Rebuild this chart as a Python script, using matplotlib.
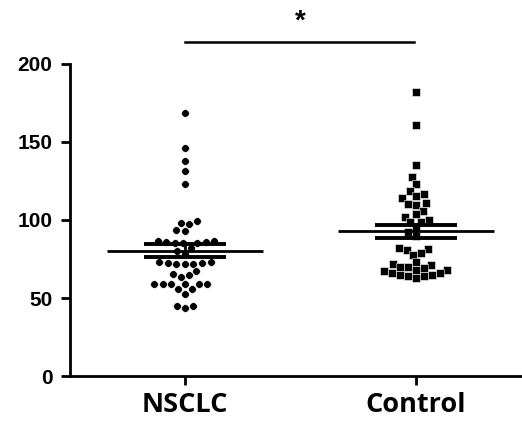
import numpy as np, pandas as pd, matplotlib; matplotlib.use("Agg")
import matplotlib.pyplot as plt
import seaborn as sns

groups = ["NSCLC", "Control"]
# values (points hidden under the mean/SEM bars are guessed)
nsclc = [168.4, 146.0, 137.8, 131.4, 123.3,
         97.4, 99.4, 98.3, 92.9, 93.6,
         86.0, 85.5, 86.5, 85.0, 86.0, 85.5, 86.5,
         80.0, 78.0, 82.0,
         72.0, 72.5, 73.0, 72.0, 72.5, 73.0, 72.0,
         67.1, 65.6, 63.5, 64.5,
         59.0, 59.2, 59.0, 59.2, 59.0, 59.2,
         55.5, 55.5, 52.7,
         45.0, 43.5, 45.0]
control = [182.3, 160.9, 135.3, 127.3, 123.1, 118.8, 115.4, 116.7, 113.9,
           110.7, 109.6, 110.3, 106.0, 103.8, 102.1,
           99.0, 98.5, 100.0,
           95.0, 92.0, 90.0,
           82.0, 81.0, 81.2,
           77.6, 78.6,
           73.0, 72.0, 71.0, 70.0, 70.0, 69.0, 68.0, 68.0,
           67.0, 66.0, 66.0, 65.0, 65.0, 64.0, 64.0, 63.0]
yticks = [0, 50, 100, 150, 200]
sig_text = "*"

df = pd.DataFrame({"group": ["NSCLC"] * len(nsclc) + ["Control"] * len(control),
                   "value": nsclc + control})

fig = plt.figure(figsize=(5.22, 4.23), dpi=100)
ax = fig.add_axes([0.134, 0.111, 0.866, 0.738])

for g, mk in zip(groups, ["o", "s"]):
    sns.swarmplot(data=df[df.group == g], x="group", y="value", order=groups, marker=mk,
                  size=5.5 if mk == "o" else 5.2, color="black", edgecolor="white",
                  linewidth=0.4, ax=ax, zorder=2)

# mean +/- SEM
for i, vals in enumerate([nsclc, control]):
    v = np.asarray(vals); m = v.mean(); se = v.std(ddof=1) / np.sqrt(len(v))
    ax.hlines(m, i - 0.338, i + 0.338, color="black", lw=2.0, zorder=3)
    ax.hlines([m - se, m + se], i - 0.177, i + 0.177, color="black", lw=2.8, zorder=3)
    ax.vlines(i, m - se, m + se, color="black", lw=2.0, zorder=3)

ax.set_xlim(-0.498, 1.459); ax.set_ylim(0, 200)
ax.set_yticks(yticks)
ax.set_xticks([0, 1]); ax.set_xticklabels(groups)
ax.set_xlabel(""); ax.set_ylabel("")
for s in ["top", "right"]: ax.spines[s].set_visible(False)
for s in ["left", "bottom"]: ax.spines[s].set_linewidth(2.0)
ax.tick_params(axis="both", direction="out", length=6.5, width=2.0, color="black")
ax.tick_params(axis="y", pad=6)
ax.tick_params(axis="x", pad=5)
for t in ax.get_yticklabels(): t.set_fontfamily("Liberation Sans"); t.set_fontweight("bold"); t.set_fontsize(15)
for t in ax.get_xticklabels(): t.set_fontfamily("Open Sans"); t.set_fontweight("bold"); t.set_fontsize(19.5)

# significance bar
ax.plot([0, 0.99], [214, 214], color="black", lw=1.8, clip_on=False)
ax.text(0.5, 219, sig_text, ha="center", va="bottom", fontsize=20, fontweight="bold",
        family="Liberation Sans", clip_on=False)

fig.savefig("out.png", dpi=100)
